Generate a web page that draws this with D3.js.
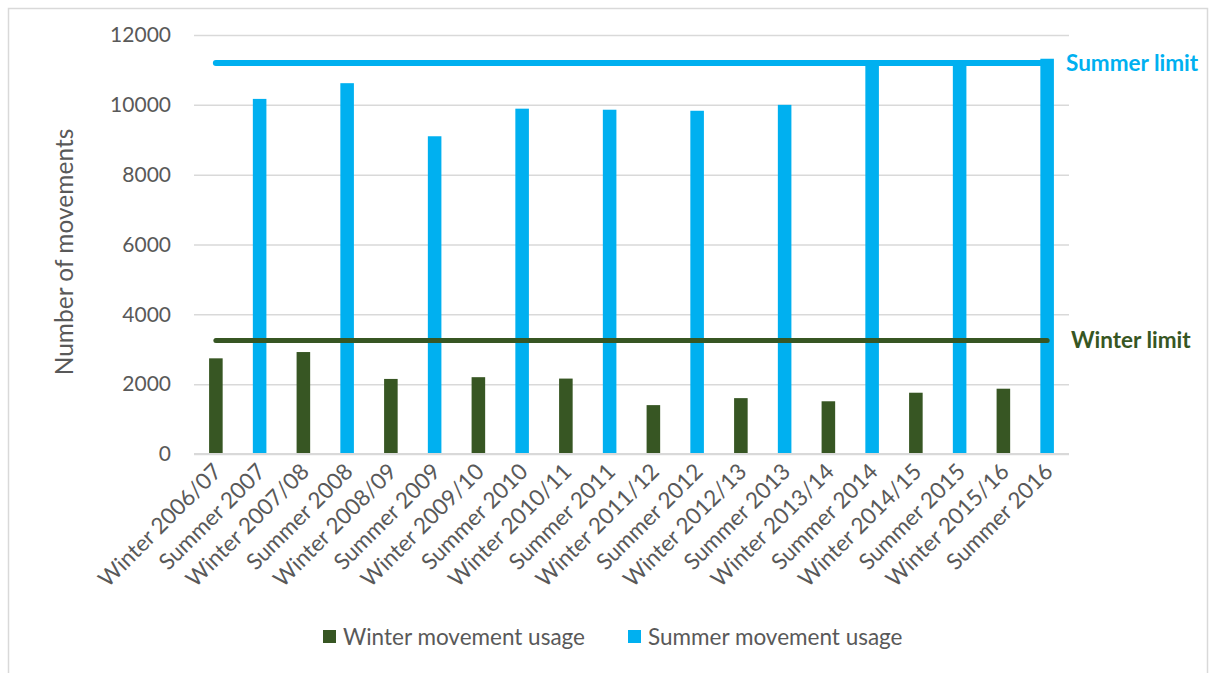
<!DOCTYPE html>
<html>
<head>
<meta charset="utf-8">
<script src="https://cdn.jsdelivr.net/npm/d3@7"></script>
<style>
  html, body { margin: 0; padding: 0; background: #ffffff; }
  svg { display: block; }
  text { font-family: Lato, "Open Sans", sans-serif; }
</style>
</head>
<body>
<svg id="chart" width="1210" height="673"></svg>
<script>
// Seasons in order along the x axis
const categories = [
  "Winter 2006/07", "Summer 2007", "Winter 2007/08", "Summer 2008",
  "Winter 2008/09", "Summer 2009", "Winter 2009/10", "Summer 2010",
  "Winter 2010/11", "Summer 2011", "Winter 2011/12", "Summer 2012",
  "Winter 2012/13", "Summer 2013", "Winter 2013/14", "Summer 2014",
  "Winter 2014/15", "Summer 2015", "Winter 2015/16", "Summer 2016"
];

// Movements used per season (null where the season belongs to the other series)
const winterUsage = [2740, null, 2920, null, 2150, null, 2200, null, 2160, null,
                     1400, null, 1600, null, 1510, null, 1755, null, 1870, null];
const summerUsage = [null, 10170, null, 10620, null, 9100, null, 9890, null, 9860,
                     null, 9830, null, 10000, null, 11200, null, 11250, null, 11320];

// Seasonal movement caps
const winterLimit = 3250;
const summerLimit = 11200;

const yTicks = [0, 2000, 4000, 6000, 8000, 10000, 12000];

const WINTER = "#375623";
const SUMMER = "#00B0F0";
const GRID = "#D9D9D9";
const TEXT = "#595959";

const svg = d3.select("#chart");

// Outer chart frame
svg.append("rect")
  .attr("x", 8.5).attr("y", 8.5)
  .attr("width", 1199).attr("height", 700)
  .attr("fill", "#fff").attr("stroke", GRID).attr("stroke-width", 1.5);

const plot = { left: 194, right: 1069, top: 35, bottom: 454 };

const x = d3.scaleBand()
  .domain(categories)
  .range([plot.left, plot.right])
  .paddingInner(0.69)
  .paddingOuter(0.345);

const y = d3.scaleLinear()
  .domain([0, 12000])
  .range([plot.bottom, plot.top]);

const cx = c => x(c) + x.bandwidth() / 2;

// Horizontal gridlines and y tick labels
const yAxis = d3.axisLeft(y).tickValues(yTicks).tickSize(-(plot.right - plot.left)).tickPadding(23).tickFormat(d3.format("d"));
const yg = svg.append("g")
  .attr("transform", `translate(${plot.left},0)`)
  .call(yAxis);
yg.select(".domain").remove();
yg.selectAll(".tick line").attr("stroke", GRID).attr("stroke-width", 1.5);
yg.selectAll(".tick text")
  .attr("fill", TEXT)
  .attr("font-size", 21)
  .attr("font-family", "Lato, sans-serif");

// Y axis title
svg.append("text")
  .attr("transform", `translate(73,252) rotate(-90)`)
  .attr("text-anchor", "middle")
  .attr("fill", TEXT)
  .attr("font-size", 24.5)
  .text("Number of movements");

// Bars
const winterData = categories.map((c, i) => ({ c, v: winterUsage[i] })).filter(d => d.v != null);
const summerData = categories.map((c, i) => ({ c, v: summerUsage[i] })).filter(d => d.v != null);

svg.append("g").selectAll("rect").data(winterData).join("rect")
  .attr("x", d => x(d.c))
  .attr("y", d => y(d.v))
  .attr("width", x.bandwidth())
  .attr("height", d => y(0) - y(d.v))
  .attr("fill", WINTER);

svg.append("g").selectAll("rect").data(summerData).join("rect")
  .attr("x", d => x(d.c))
  .attr("y", d => y(d.v))
  .attr("width", x.bandwidth())
  .attr("height", d => y(0) - y(d.v))
  .attr("fill", SUMMER);

// Category axis line
const xAxis = d3.axisBottom(x).tickSize(0).tickPadding(0);
const xg = svg.append("g")
  .attr("transform", `translate(0,${plot.bottom})`)
  .call(xAxis);
xg.select(".domain").attr("stroke", GRID).attr("stroke-width", 2)
  .attr("d", `M${plot.left},0H${plot.right}`);
xg.selectAll(".tick text")
  .attr("fill", TEXT)
  .attr("font-size", 22.5)
  .attr("font-family", "Lato, sans-serif")
  .attr("text-anchor", "end")
  .attr("dy", null)
  .attr("transform", "translate(7,19) rotate(-45)");

// Limit lines spanning first to last category
const limitLine = d3.line().x(d => d[0]).y(d => d[1]);
const first = categories[0], last = categories[categories.length - 1];

svg.append("path")
  .attr("d", limitLine([[cx(first), y(summerLimit)], [cx(last), y(summerLimit)]]))
  .attr("stroke", SUMMER).attr("stroke-width", 6)
  .attr("stroke-linecap", "round").attr("fill", "none");

svg.append("path")
  .attr("d", limitLine([[cx(first), y(winterLimit)], [cx(last), y(winterLimit)]]))
  .attr("stroke", WINTER).attr("stroke-width", 5)
  .attr("stroke-linecap", "round").attr("fill", "none");

// Limit labels
svg.append("text")
  .attr("x", 1066).attr("y", y(summerLimit))
  .attr("dy", "0.35em")
  .attr("fill", SUMMER).attr("font-weight", "bold").attr("font-size", 22.5)
  .text("Summer limit");

svg.append("text")
  .attr("x", 1071).attr("y", y(winterLimit))
  .attr("dy", "0.35em")
  .attr("fill", WINTER).attr("font-weight", "bold").attr("font-size", 22.5)
  .text("Winter limit");

// Legend
const legendItems = [
  { label: "Winter movement usage", color: WINTER, x: 323 },
  { label: "Summer movement usage", color: SUMMER, x: 628 }
];
const lg = svg.append("g").selectAll("g").data(legendItems).join("g")
  .attr("transform", d => `translate(${d.x},637)`);
lg.append("rect").attr("x", 0).attr("y", -7).attr("width", 13).attr("height", 13).attr("fill", d => d.color);
lg.append("text").attr("x", 20).attr("y", 0).attr("dy", "0.35em")
  .attr("fill", TEXT).attr("font-size", 22.5).text(d => d.label);
</script>
</body>
</html>
